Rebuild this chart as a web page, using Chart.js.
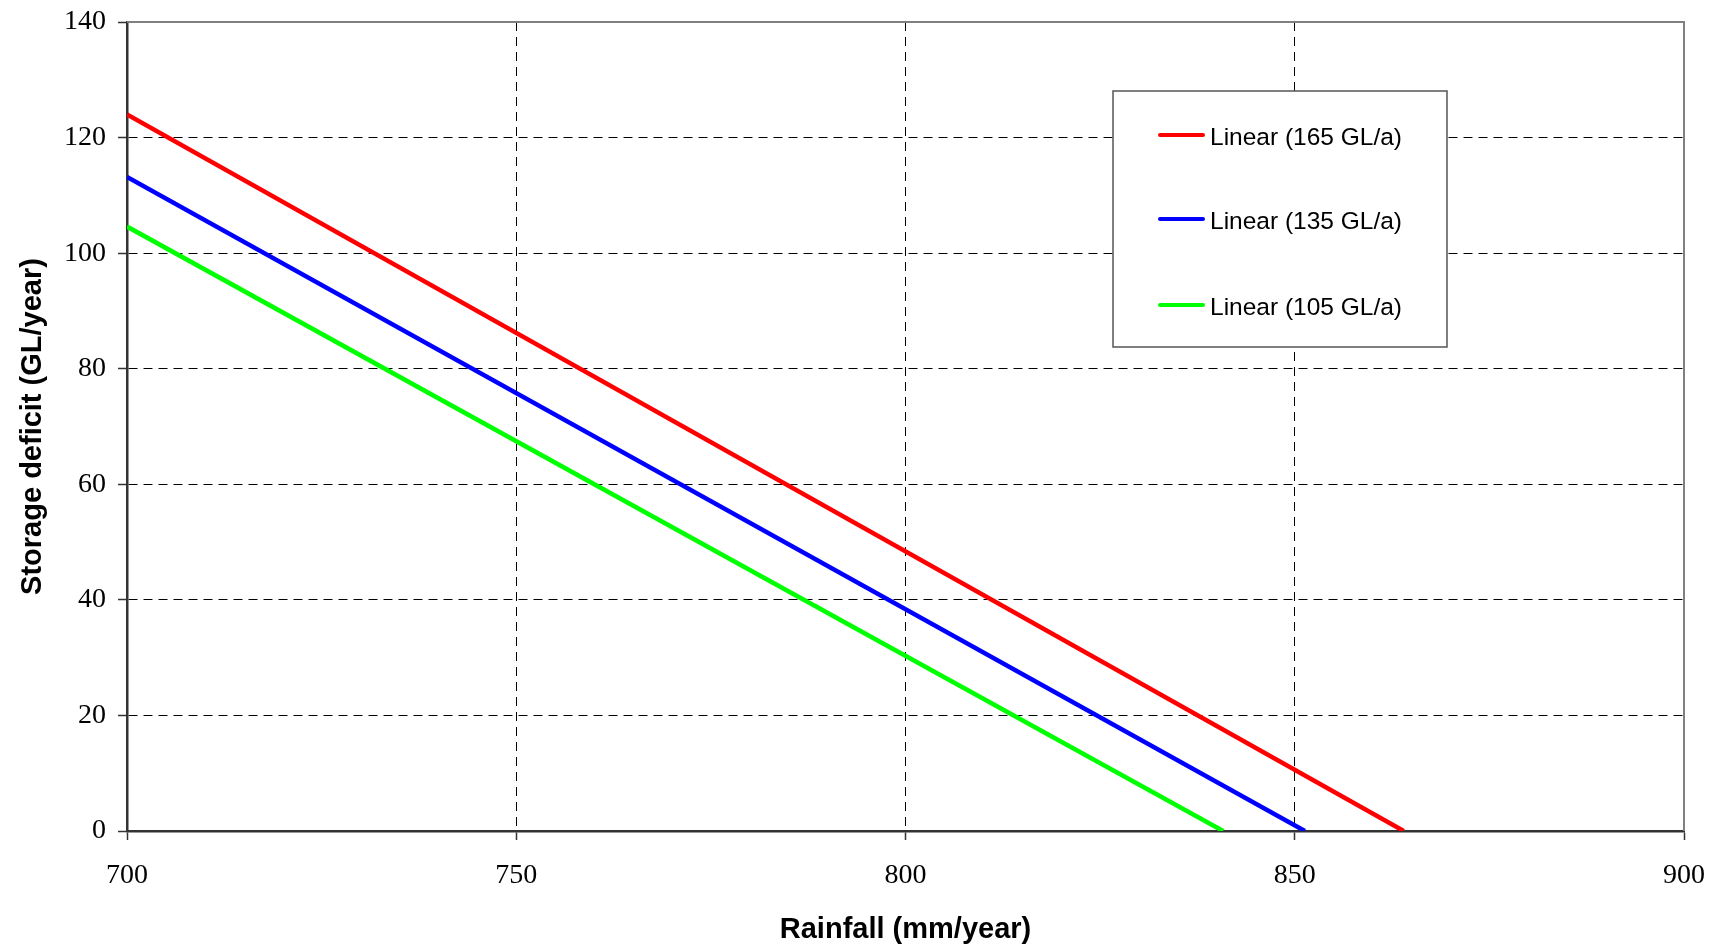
<!DOCTYPE html>
<html>
<head>
<meta charset="utf-8">
<script src="https://cdn.jsdelivr.net/npm/chart.js@4/dist/chart.umd.min.js"></script>
<style>
    html, body { margin: 0; padding: 0; background: #ffffff; }
    #wrap { width: 1715px; height: 946px; }
</style>
</head>
<body>
<div id="wrap"><canvas id="deficitChart" width="1715" height="946"></canvas></div>
<script>
// Данные графика
const seriesLabels = ['Linear (165 GL/a)', 'Linear (135 GL/a)', 'Linear (105 GL/a)'];
const seriesColors = ['#ff0000', '#0000ff', '#00ff00'];
const startRainfall = [700, 700, 700];
const startDeficit = [124.0, 113.2, 104.6];
const zeroRainfall = [864.0, 851.3, 840.8];
const zeroDeficit = [0, 0, 0];
const xTicks = [700, 750, 800, 850, 900];
const yTicks = [0, 20, 40, 60, 80, 100, 120, 140];

const datasets = seriesLabels.map((label, i) => ({
    label: label,
    data: [
        { x: startRainfall[i], y: startDeficit[i] },
        { x: zeroRainfall[i], y: zeroDeficit[i] }
    ],
    borderColor: seriesColors[i],
    borderWidth: 4.5,
    pointRadius: 0,
    fill: false,
    tension: 0
}));

// Рамка сверху и справа
const framePlugin = {
    id: 'frame',
    beforeDatasetsDraw(chart) {
        const { ctx, chartArea: a } = chart;
        ctx.save();
        ctx.strokeStyle = '#808080';
        ctx.lineWidth = 2;
        ctx.beginPath();
        ctx.moveTo(a.left, a.top);
        ctx.lineTo(a.right, a.top);
        ctx.lineTo(a.right, a.bottom);
        ctx.stroke();
        ctx.restore();
    }
};

// Легенда внутри области графика
const boxLegend = {
    id: 'boxLegend',
    afterDraw(chart) {
        const ctx = chart.ctx;
        const box = { x: 1113, y: 91, w: 334, h: 256 };
        const rows = [135, 219, 305];
        ctx.save();
        ctx.fillStyle = '#ffffff';
        ctx.fillRect(box.x, box.y, box.w, box.h);
        ctx.strokeStyle = '#555555';
        ctx.lineWidth = 1.5;
        ctx.strokeRect(box.x, box.y, box.w, box.h);
        ctx.font = '24.5px "Liberation Sans", Arial, sans-serif';
        ctx.textBaseline = 'middle';
        ctx.fillStyle = '#000000';
        chart.data.datasets.forEach((ds, i) => {
            ctx.strokeStyle = ds.borderColor;
            ctx.lineWidth = 4;
            ctx.lineCap = 'round';
            ctx.beginPath();
            ctx.moveTo(1160, rows[i]);
            ctx.lineTo(1203, rows[i]);
            ctx.stroke();
            ctx.fillText(ds.label, 1210, rows[i] + 3);
        });
        ctx.restore();
    }
};

const tickFont = { family: '"Liberation Serif", "Times New Roman", serif', size: 28 };
const titleFont = { family: '"Liberation Sans", Arial, sans-serif', size: 29, weight: 'bold', lineHeight: 1.0 };

new Chart(document.getElementById('deficitChart'), {
    type: 'line',
    data: { datasets: datasets },
    options: {
        responsive: false,
        animation: false,
        layout: { padding: { top: 22, right: 31, left: 0, bottom: 0 } },
        plugins: {
            legend: { display: false },
            tooltip: { enabled: false }
        },
        scales: {
            x: {
                type: 'linear',
                min: 700,
                max: 900,
                afterBuildTicks: (scale) => { scale.ticks = xTicks.map(v => ({ value: v })); },
                afterFit: (scale) => {
                    scale.height = 115;
                    scale.paddingLeft = 0;
                    scale.paddingRight = 0;
                },
                ticks: { color: '#000000', font: tickFont, padding: 19, maxRotation: 0 },
                grid: {
                    color: (c) => (c.tick && (c.tick.value === 700 || c.tick.value === 900)) ? 'rgba(0,0,0,0)' : '#000000',
                    lineWidth: 1,
                    tickLength: 9,
                    tickColor: '#333333',
                    tickWidth: 1.5
                },
                border: { display: true, color: '#333333', width: 2.5, dash: [9, 6] },
                title: {
                    display: true,
                    text: 'Rainfall (mm/year)',
                    color: '#000000',
                    font: titleFont,
                    padding: { top: 0, bottom: 2 }
                }
            },
            y: {
                min: 0,
                max: 140,
                afterBuildTicks: (scale) => { scale.ticks = yTicks.map(v => ({ value: v })); },
                afterFit: (scale) => {
                    scale.width = 127;
                    scale.paddingTop = 0;
                    scale.paddingBottom = 0;
                },
                ticks: { color: '#000000', font: tickFont, padding: 12 },
                grid: {
                    color: (c) => (c.tick && (c.tick.value === 0 || c.tick.value === 140)) ? 'rgba(0,0,0,0)' : '#000000',
                    lineWidth: 1,
                    tickLength: 9,
                    tickColor: '#333333',
                    tickWidth: 1.5
                },
                border: { display: true, color: '#333333', width: 2.5, dash: [9, 6] },
                title: {
                    display: true,
                    text: 'Storage deficit (GL/year)',
                    color: '#000000',
                    font: titleFont,
                    padding: { top: 18, bottom: 0 }
                }
            }
        }
    },
    plugins: [framePlugin, boxLegend]
});
</script>
</body>
</html>
